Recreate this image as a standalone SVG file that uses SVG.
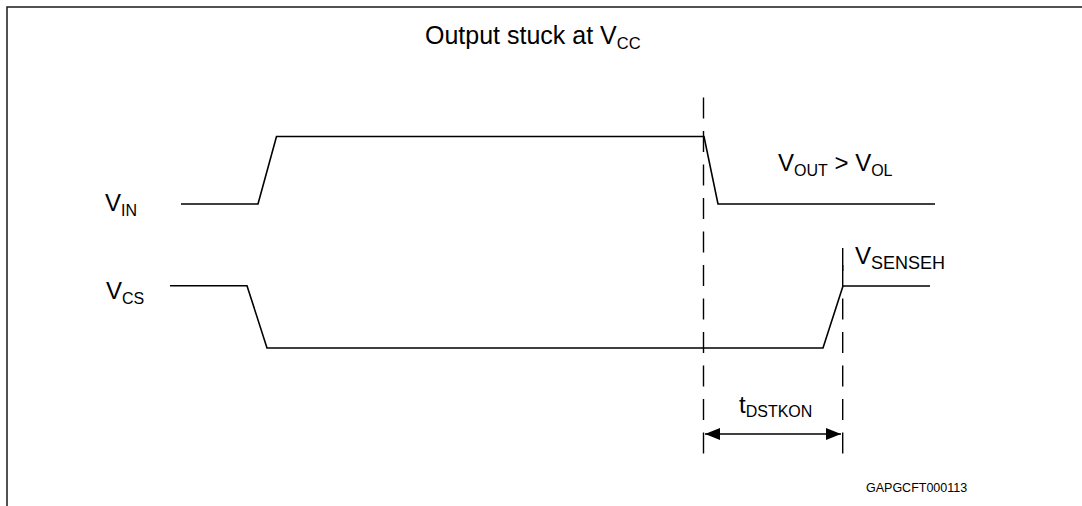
<svg xmlns="http://www.w3.org/2000/svg" width="1082" height="506" viewBox="0 0 1082 506">
<defs>
<style>
.frame{fill:none;stroke:#1a1a1a;stroke-width:1.5}
.wave{fill:none;stroke:#000;stroke-width:1.6;stroke-linejoin:miter}
.dash{fill:none;stroke:#000;stroke-width:1.4;stroke-dasharray:21 12.5}
.tick{fill:none;stroke:#000;stroke-width:1.4}
.lbl{font-family:"Liberation Sans",Arial,sans-serif;font-size:24px;fill:#000}
.sub{font-size:16px}
.code{font-family:"Liberation Sans",Arial,sans-serif;font-size:12.5px;fill:#000}
</style>
<marker id="ah" viewBox="0 0 15 12" refX="15" refY="6" markerWidth="15" markerHeight="12" markerUnits="userSpaceOnUse" orient="auto-start-reverse">
<path d="M0,0 L15,6 L0,12 Z" fill="#000"/>
</marker>
</defs>
<rect width="1082" height="506" fill="#fff"/>
<path class="frame" d="M7,506 V7 H1082"/>
<g id="title">
<text class="lbl" x="425" y="44" style="font-size:25px">Output stuck at V<tspan style="font-size:16.5px" dy="5">CC</tspan></text>
</g>
<g id="vin">
<text class="lbl" x="105" y="211">V<tspan class="sub" dy="5">IN</tspan></text>
<path class="wave" d="M181,204 H258 L276.5,136.5 H704 L718,204 H935"/>
</g>
<g id="vcs">
<text class="lbl" x="106" y="299">V<tspan class="sub" dy="5">CS</tspan></text>
<path class="wave" d="M170,285.7 H247 L267,348 H823 L843,286 H930"/>
</g>
<g id="vout">
<text class="lbl" x="778" y="171">V<tspan class="sub" dy="5">OUT</tspan><tspan dy="-5"> &gt; V</tspan><tspan class="sub" dy="5">OL</tspan></text>
</g>
<g id="vsenseh">
<text class="lbl" x="855" y="264">V<tspan style="font-size:18px" dy="5">SENSEH</tspan></text>
</g>
<g id="tdstkon">
<text class="lbl" x="739" y="413">t<tspan class="sub" dy="4">DSTKON</tspan></text>
</g>
<g id="connectors">
<path class="dash" d="M703.5,97.5 V456"/>
<path class="tick" d="M842.7,248 V271"/>
<path class="dash" d="M842.7,265 V456"/>
<path class="tick" d="M705,434 H841" marker-start="url(#ah)" marker-end="url(#ah)"/>
</g>
<g id="code">
<text class="code" x="866" y="492">GAPGCFT000113</text>
</g>
</svg>
